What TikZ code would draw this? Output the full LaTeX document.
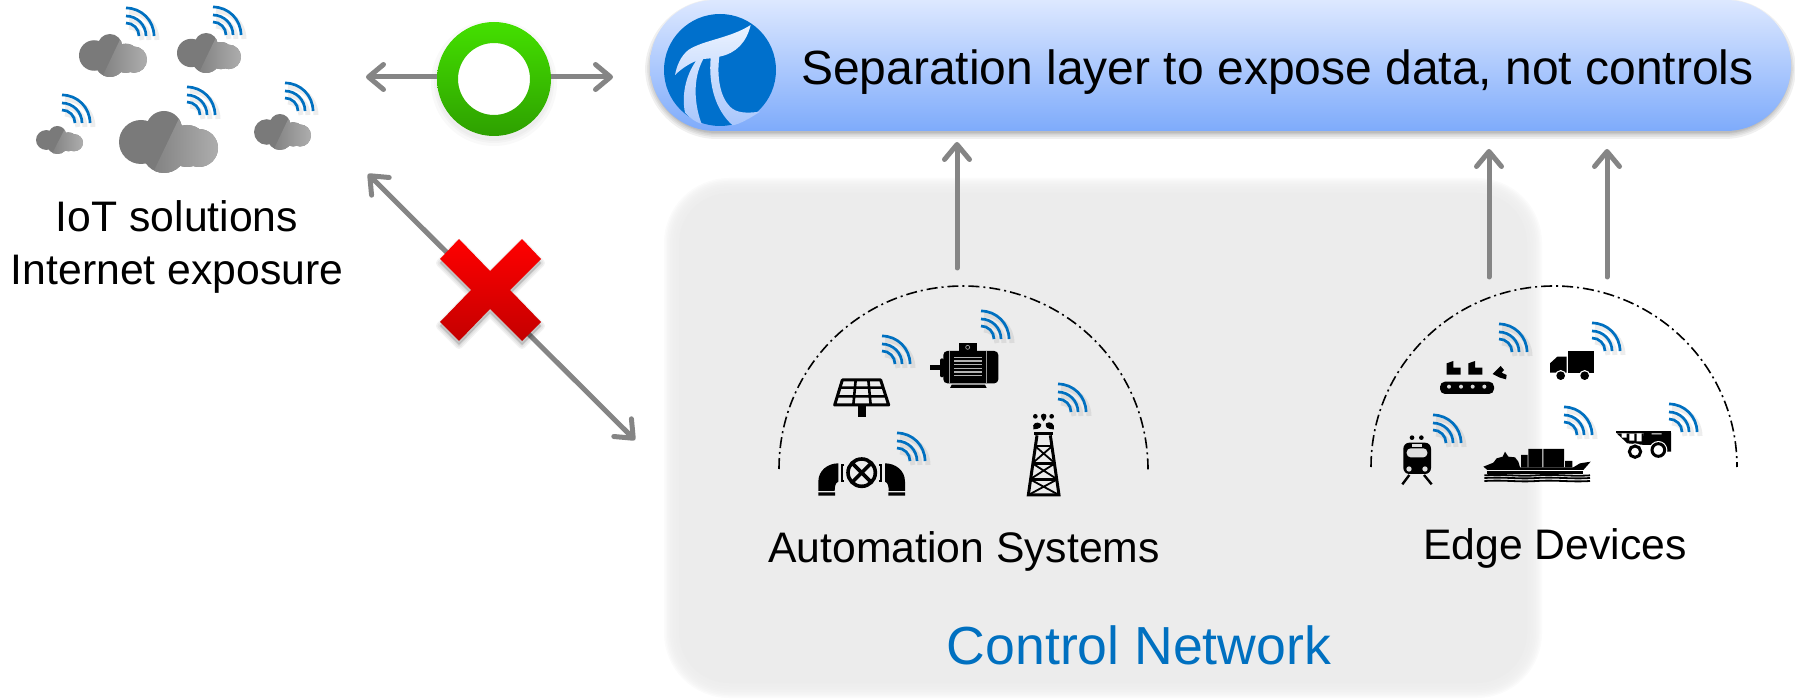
\documentclass[tikz,border=0pt]{standalone}
\usepackage{fontspec}
\setmainfont{Liberation Sans}
\usetikzlibrary{arrows.meta}
\definecolor{arrowgrey}{HTML}{858585}
\definecolor{wifiblue}{HTML}{0070C0}
\definecolor{logoblue}{HTML}{0070CC}
\definecolor{regiongrey}{HTML}{ECECEC}
\tikzset{
  link/.style={draw=arrowgrey,line width=5pt,line cap=round},
  barb/.tip={Straight Barb[length=15pt,width=25pt,line width=5pt,round]},
  bar/.style={-barb},
  dbl/.style={barb-barb},
  dome/.style={draw=black,line width=1.6pt,dash pattern=on 11pt off 4pt on 2pt off 4pt},
  wf/.style={draw=wifiblue,line width=2.7pt},
  wfs/.style={draw=black,opacity=.07,line width=5pt},
  label/.style={font=\fontsize{42.7}{53}\selectfont,inner sep=0pt},
  iconz/.style={x=.33333pt,y=-.33333pt},
}
\newcommand\wifiarcs[1]{%
  \draw[#1] (0,-13) .. controls (7.2,-13) and (13,-7.2) .. (13,0);
  \draw[#1] (0,-20) .. controls (11,-20) and (20,-11) .. (20,0);
  \draw[#1] (0,-28) .. controls (15.5,-28) and (28,-15.5) .. (28,0);}
\newcommand\wifi[2]{%
  \begin{scope}[shift={(#1+3,#2+5)}]\wifiarcs{wfs}\end{scope}
  \begin{scope}[shift={(#1,#2+1)}]\wifiarcs{wf}\end{scope}}
\newcommand\lumps{(22,31) circle[radius=22] (45,18) circle[radius=18] (45,40) circle[radius=22] (68,35) circle[radius=21] (80,37) circle[radius=19]}
\newcommand\cloudicon[4]{%
  \begin{scope}[shift={(#1,#2)},xscale=#3/99,yscale=#4/62]
    \fill[black!52] \lumps;
    \begin{scope}
      \clip (66,-5) -- (120,-5) -- (120,70) -- (30,70) -- cycle;
      \shade[left color=black!58,right color=black!32] \lumps;
    \end{scope}
  \end{scope}}
\begin{document}
\begin{tikzpicture}[x=1pt,y=-1pt]
\useasboundingbox (0,0) rectangle (1795,700);
% control network region
\foreach \w in {30,27,24,21,18,15,12,9,6,3}{
  \draw[regiongrey,opacity=.22,line width=\w pt,rounded corners=50pt] (679,193) rectangle (1527,683);}
\fill[regiongrey,rounded corners=50pt] (679,193) rectangle (1527,683);
% separation layer
\foreach \w in {14,10,7,4,2}{
  \draw[black,opacity=.06,line width=\w pt,rounded corners=65pt] (652,6) rectangle (1789,132);}
\node (pill) [minimum width=1141pt,minimum height=131pt,inner sep=0pt,rounded corners=65pt,
      top color={rgb,255:red,221;green,232;blue,255},bottom color={rgb,255:red,126;green,171;blue,251}] at (1220.5,65.5) {};
% logo
\begin{scope}[shift={(640,0)},iconz]
  \fill[logoblue] (240,210) circle[radius=168];
  \shade[top color={rgb,255:red,236;green,243;blue,255},bottom color={rgb,255:red,168;green,198;blue,252}] (332,75) .. controls (270,115) and (190,120) .. (145,150) .. controls (120,170) and (110,200) .. (105,225)
     .. controls (125,205) and (150,190) .. (168,183) .. controls (135,230) and (125,290) .. (135,338)
     .. controls (150,355) and (165,365) .. (185,372) .. controls (165,320) and (155,240) .. (190,177)
     -- (212,175) .. controls (205,250) and (225,330) .. (278,376) .. controls (300,372) and (330,355) .. (360,335)
     .. controls (320,340) and (290,340) .. (270,320) .. controls (240,290) and (230,230) .. (238,170)
     .. controls (290,160) and (320,125) .. (332,75) -- cycle;
\end{scope}
\node[label,anchor=base west,font=\fontsize{48}{56}\selectfont] (sep) at (801,85) {Separation layer to expose data, not controls};
% clouds
\cloudicon{79}{34}{68}{43}
\cloudicon{177}{33}{64}{40}
\cloudicon{36}{126}{47}{28}
\cloudicon{119}{111}{99}{62}
\cloudicon{254}{114}{57}{36}
\wifi{126}{35}\wifi{213}{34}\wifi{62}{122}\wifi{187}{114}\wifi{285}{110}
\node[label,align=center] (iot) at (177,247) {IoT solutions\\Internet exposure};
% connectors
\coordinate (ringL) at (366,77);
\coordinate (ringR) at (613,77);
\coordinate (diagA) at (368,174);
\coordinate (diagB) at (635,440);
\coordinate (upAa) at (957,268);
\coordinate (upAb) at (957,142);
\coordinate (upBa) at (1489,277);
\coordinate (upBb) at (1489,149);
\coordinate (upCa) at (1607,277);
\coordinate (upCb) at (1607,149);
\draw[link,bar] (upAa) -- (upAb);
\draw[link,bar] (upBa) -- (upBb);
\draw[link,bar] (upCa) -- (upCb);
% ring
\foreach \w in {6,3,1}{\fill[black,opacity=.025] (494,83) circle[radius=57+\w];}
\node (ring) [circle,minimum size=114pt,inner sep=0pt] at (494,79) {};
\draw[link,bar] (ring.west |- ringL) -- (ringL);
\draw[link,bar] (ring.east |- ringR) -- (ringR);
\fill[white] (ring.center) circle[radius=36];
\shade[even odd rule,top color={rgb,255:red,68;green,224;blue,0},bottom color={rgb,255:red,46;green,160;blue,0}] (494,79) circle[radius=57] (494,79) circle[radius=36];
\draw[link,dbl] (diagA) -- (diagB);
% red cross
\foreach \w in {8,5,2}{
\draw[black,opacity=.05,line width=\w pt,fill=black,line join=round] (490,275) -- (522,243) -- (541,263) -- (510,294) -- (541,326) -- (522,345) -- (490,313) -- (459,345) -- (440,326) -- (471,294) -- (440,263) -- (459,243) -- cycle;}
\shade[top color=red,bottom color={rgb,255:red,196;green,0;blue,0}] (490,271) -- (522,239) -- (541,259) -- (510,290) -- (541,322) -- (522,341) -- (490,309) -- (459,341) -- (440,322) -- (471,290) -- (440,259) -- (459,239) -- cycle;
% domes
\draw[dome] (779,469) .. controls (779,367) and (861,286) .. (963,286) .. controls (1065,286) and (1148,367) .. (1148,470);
\draw[dome] (1371,467) .. controls (1371,367) and (1453,286) .. (1554,286) .. controls (1655,286) and (1737,367) .. (1737,467);
% automation icons
\begin{scope}[shift={(760,300)},iconz]
  % solar
  \draw[line width=3pt,line join=round] (247,240) -- (362,240) -- (386,315) -- (224,315) -- cycle;
  \draw[line width=2.6pt] (239,263) -- (370,263) (231,289) -- (378,289) (287,240) -- (280,315) (325,240) -- (332,315);
  \fill (293,315) rectangle (318,351);
  % motor
  \fill[rounded corners=4pt] (550,153) rectangle (715,250);
  \fill (596,130) rectangle (652,153);
  \fill (570,264) -- (575,254) -- (675,254) -- (680,264) -- cycle;
  \fill (510,195) rectangle (542,210);
  \fill[rounded corners=2pt] (540,175) rectangle (552,232);
  \draw[black!35,line width=.7pt] (623,142) circle[radius=6];
  \draw[black!40,line width=.8pt] (567,153) -- (567,250) (680,153) -- (680,250);
  \foreach \yy in {172,183,194,205,216,227}{\draw[black!30,line width=1.1pt] (582,\yy) -- (665,\yy);}
  % valve
  \fill (175,573) -- (175,545) .. controls (175,510) and (205,490) .. (235,490) -- (235,545) .. controls (226,548) and (224,560) .. (224,573) -- cycle;
  \fill (435,573) -- (435,545) .. controls (435,510) and (405,490) .. (375,490) -- (375,545) .. controls (384,548) and (386,560) .. (386,573) -- cycle;
  \fill (175,577) rectangle (225,587) (385,577) rectangle (435,587);
  \draw[line width=1.8pt] (252,495) -- (246,495) -- (246,542) -- (252,542);
  \draw[line width=1.8pt] (358,495) -- (364,495) -- (364,542) -- (358,542);
  \draw[line width=3.6pt] (305,518) circle[radius=41];
  \draw[line width=3.6pt] (277,490) -- (333,546) (333,490) -- (277,546);
  % derrick
  \fill (823,397) rectangle (879,406);
  \draw[line width=3pt] (831,406) -- (805,585) -- (897,585) -- (871,406);
  \draw[line width=2.6pt] (825,438) -- (877,438) (817,490) -- (885,490) (810,538) -- (892,538);
  \draw[line width=1.8pt] (825,438) -- (885,490) (877,438) -- (817,490) (817,490) -- (892,538) (885,490) -- (810,538) (810,538) -- (897,585) (892,538) -- (805,585);
  \fill (820,388) .. controls (815,370) and (830,362) .. (843,372) .. controls (845,380) and (840,388) .. (820,388) -- cycle;
  \fill (882,388) .. controls (885,370) and (870,362) .. (858,370) .. controls (855,380) and (860,388) .. (882,388) -- cycle;
  \fill (851,364) .. controls (840,352) and (840,342) .. (851,341) .. controls (862,342) and (862,352) .. (851,364) -- cycle;
  \fill (826,349) circle[radius=7] (875,349) circle[radius=7];
\end{scope}
% edge icons
\begin{scope}[shift={(1350,280)},iconz]
  % conveyor
  \fill[rounded corners=5pt] (270,305) rectangle (432,342);
  \fill[white!85!black] (297,320) circle[radius=6] (333,320) circle[radius=6] (368,320) circle[radius=6] (403,320) circle[radius=6];
  \fill (290,284) -- (290,250) -- (310,243) -- (310,263) -- (332,263) -- (332,284) -- cycle;
  \fill (355,284) -- (355,250) -- (375,243) -- (375,263) -- (397,263) -- (397,284) -- cycle;
  \fill (428,282) -- (452,258) -- (462,270) -- (455,278) -- (470,285) -- (468,298) -- (450,293) -- cycle;
  % truck
  \fill (655,213) rectangle (733,278);
  \fill (600,278) -- (600,250) -- (622,230) -- (650,230) -- (650,278) -- cycle;
  \fill[white] (632,287) circle[radius=17] (704,287) circle[radius=17];
  \fill (632,287) circle[radius=13] (704,287) circle[radius=13];
  % train
  \fill[rounded corners=6pt] (160,488) rectangle (243,582);
  \fill[white!88!black,rounded corners=4pt] (170,505) rectangle (232,532);
  \fill[white!88!black] (185,493) rectangle (217,500);
  \fill[white!88!black] (177,567) circle[radius=8] (225,567) circle[radius=8];
  \fill (186,473) circle[radius=7] (214,473) circle[radius=7];
  \draw[line width=2.4pt] (178,585) -- (157,613) (222,585) -- (245,613);
  % ship
  \fill (400,560) -- (430,548) -- (440,535) -- (458,530) -- (465,515) -- (475,530) -- (495,532) -- (505,545) -- (510,562) -- (670,562) -- (690,550) -- (722,545) -- (700,570) -- (412,570) -- cycle;
  \fill (513,525) rectangle (533,562) (535,507) rectangle (577,562) (580,507) rectangle (642,562) (645,543) rectangle (667,562);
  \fill (412,573) rectangle (700,581);
  \foreach \yy in {586,594,603}{\draw[line width=1.8pt] (403,\yy) .. controls (470,\yy-4) and (500,\yy+4) .. (560,\yy) .. controls (620,\yy-4) and (660,\yy+4) .. (720,\yy);}
  % dump truck
  \fill (798,453) rectangle (963,460);
  \fill (800,460) -- (880,460) -- (885,495) -- (832,490) -- cycle;
  \fill (880,458) -- (963,458) -- (963,515) -- (945,515) -- (930,495) -- (880,495) -- cycle;
  \fill[white] (815,460) rectangle (830,473) (838,462) rectangle (853,482) (860,460) rectangle (875,484) (905,460) rectangle (935,463);
  \fill[white] (855,515) circle[radius=25] (925,510) circle[radius=27];
  \draw[line width=3pt] (855,515) circle[radius=17] (925,510) circle[radius=19];
\end{scope}
\wifi{882}{363}\wifi{981}{338}\wifi{897}{460}\wifi{1058}{411}
\wifi{1499}{351}\wifi{1592}{350}\wifi{1433}{442}\wifi{1564}{434}\wifi{1669}{431}
% labels
\node[label,anchor=base] (auto) at (964,562) {Automation Systems};
\node[label,anchor=base] (edge) at (1555,559) {Edge Devices};
\node[label,anchor=base,text=wifiblue,font=\fontsize{53.6}{60}\selectfont] (ctrl) at (1139,664) {Control Network};
\end{tikzpicture}
\end{document}
